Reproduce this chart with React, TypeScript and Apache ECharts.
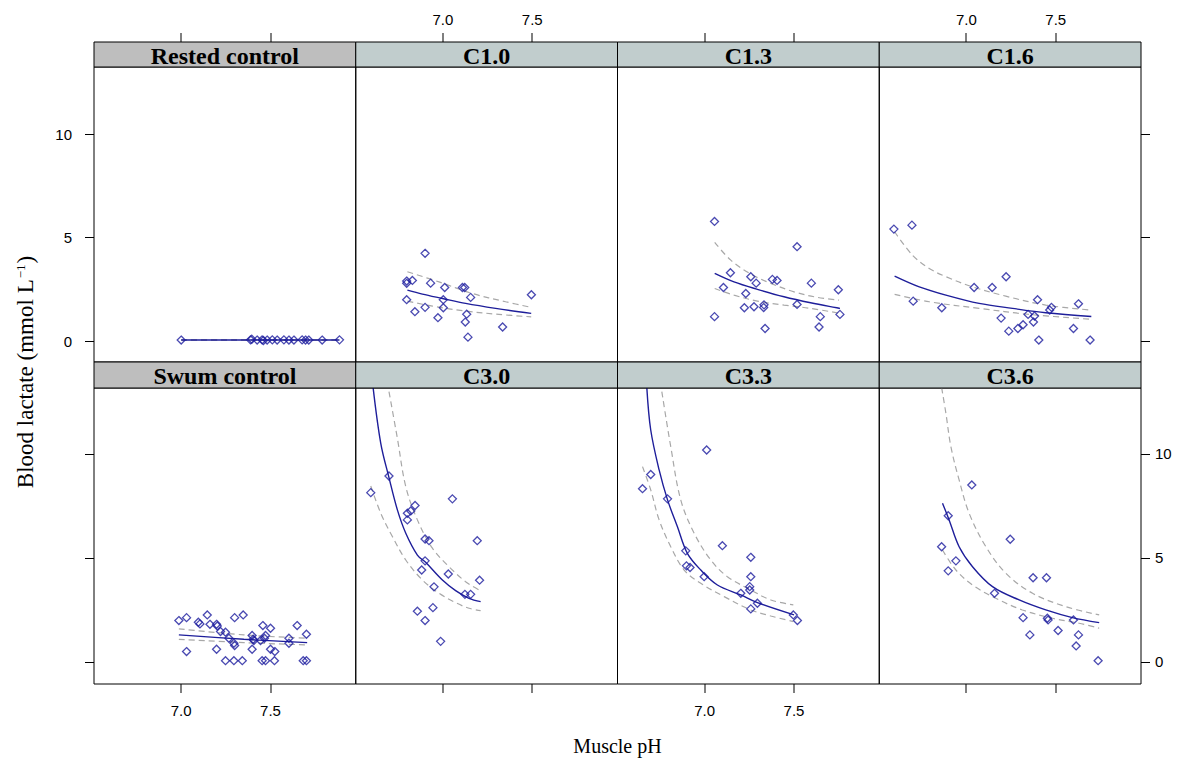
import React, { useEffect, useRef } from "react";
import * as echarts from "echarts";

// ---------- data ----------
const panelTitles = ["Rested control", "C1.0", "C1.3", "C1.6", "Swum control", "C3.0", "C3.3", "C3.6"];
const xTicks = [7.0, 7.5];
const yTicks = [0, 5, 10];

const restedPoints = [[7.0, 0.05], [7.388, 0.06], [7.395, 0.09], [7.425, 0.05], [7.453, 0.06], [7.46, 0.03], [7.481, 0.05], [7.51, 0.06], [7.537, 0.05], [7.575, 0.06], [7.603, 0.05], [7.631, 0.05], [7.677, 0.06], [7.696, 0.05], [7.714, 0.05], [7.789, 0.05], [7.886, 0.06]];
const restedFit = [[7.0, 0.05], [7.886, 0.05]];
const restedUpper = [[7.0, 0.07], [7.886, 0.07]];
const restedLower = [[7.0, 0.03], [7.886, 0.03]];

const c10Points = [[6.9, 4.24], [6.797, 2.9], [6.829, 2.93], [6.797, 2.79], [6.931, 2.8], [7.01, 2.59], [7.109, 2.59], [7.122, 2.59], [7.155, 2.11], [7.495, 2.24], [6.797, 2.0], [7.002, 2.0], [6.843, 1.42], [6.9, 1.63], [7.002, 1.61], [6.972, 1.13], [7.133, 1.3], [7.125, 0.92], [7.334, 0.68], [7.14, 0.19]];
const c10Fit = [[6.801, 2.46], [6.885, 2.27], [6.997, 2.06], [7.127, 1.82], [7.295, 1.58], [7.494, 1.34]];
const c10Upper = [[6.801, 3.35], [6.978, 2.86], [7.164, 2.3], [7.351, 1.9], [7.494, 1.63]];
const c10Lower = [[6.801, 1.93], [6.941, 1.69], [7.127, 1.45], [7.313, 1.29], [7.494, 1.17]];

const c13Points = [[7.055, 5.78], [7.517, 4.56], [7.144, 3.3], [7.258, 3.11], [7.288, 2.8], [7.379, 2.98], [7.405, 2.93], [7.597, 2.8], [7.105, 2.59], [7.748, 2.48], [7.23, 2.3], [7.222, 1.61], [7.276, 1.66], [7.332, 1.75], [7.33, 1.62], [7.517, 1.77], [7.647, 1.18], [7.757, 1.29], [7.055, 1.18], [7.338, 0.61], [7.64, 0.68]];
const c13Fit = [[7.056, 3.27], [7.164, 2.86], [7.295, 2.5], [7.444, 2.14], [7.593, 1.85], [7.757, 1.58]];
const c13Upper = [[7.056, 4.77], [7.146, 3.91], [7.258, 3.24], [7.37, 2.79], [7.5, 2.38], [7.631, 2.11], [7.752, 1.98]];
const c13Lower = [[7.056, 2.54], [7.164, 2.22], [7.295, 1.93], [7.444, 1.74], [7.593, 1.58], [7.757, 1.34]];

const c16Points = [[6.594, 5.41], [6.695, 5.6], [7.222, 3.11], [7.043, 2.59], [7.144, 2.59], [6.702, 1.93], [6.862, 1.61], [7.398, 2.0], [7.627, 1.8], [7.476, 1.63], [7.466, 1.5], [7.194, 1.11], [7.345, 1.29], [7.381, 1.21], [7.375, 0.92], [7.317, 0.79], [7.288, 0.61], [7.237, 0.48], [7.599, 0.61], [7.405, 0.05], [7.692, 0.05]];
const c16Fit = [[6.598, 3.14], [6.736, 2.62], [6.885, 2.22], [7.071, 1.82], [7.258, 1.58], [7.444, 1.37], [7.699, 1.19]];
const c16Upper = [[6.598, 5.28], [6.698, 4.15], [6.792, 3.51], [6.885, 3.11], [7.034, 2.62], [7.22, 2.17], [7.444, 1.74], [7.699, 1.5]];
const c16Lower = [[6.598, 2.26], [6.792, 1.9], [7.071, 1.58], [7.351, 1.29], [7.699, 1.05]];

const swumPoints = [[6.987, 1.99], [7.03, 2.13], [7.146, 2.26], [7.096, 1.91], [7.105, 1.83], [7.161, 1.81], [7.198, 1.81], [7.202, 1.73], [7.299, 2.13], [7.347, 2.26], [7.22, 1.46], [7.248, 1.43], [7.267, 1.14], [7.295, 0.9], [7.299, 0.79], [7.397, 1.27], [7.403, 1.09], [7.407, 1.03], [7.457, 1.75], [7.5, 1.62], [7.472, 1.27], [7.466, 1.14], [7.444, 1.03], [7.649, 1.75], [7.701, 1.33], [7.603, 1.14], [7.603, 0.9], [7.03, 0.5], [7.198, 0.61], [7.397, 0.61], [7.5, 0.61], [7.524, 0.5], [7.248, 0.06], [7.295, 0.06], [7.342, 0.06], [7.453, 0.06], [7.472, 0.06], [7.522, 0.06], [7.683, 0.06], [7.701, 0.06]];
const swumFit = [[6.987, 1.3], [7.351, 1.09], [7.705, 0.93]];
const swumUpper = [[6.987, 1.59], [7.351, 1.3], [7.705, 1.14]];
const swumLower = [[6.987, 1.09], [7.351, 0.93], [7.705, 0.82]];

const c30Points = [[6.698, 8.94], [6.596, 8.14], [7.053, 7.84], [6.844, 7.52], [6.82, 7.26], [6.801, 7.15], [6.801, 6.83], [6.9, 5.91], [6.922, 5.83], [7.192, 5.83], [6.9, 4.86], [6.881, 4.42], [7.03, 4.23], [7.205, 3.93], [6.95, 3.61], [7.123, 3.25], [7.155, 3.25], [6.944, 2.61], [6.857, 2.44], [6.9, 1.99], [6.987, 0.99]];
const c30Fit = [[6.609, 13.2], [6.652, 10.51], [6.698, 8.86], [6.745, 7.31], [6.792, 6.19], [6.857, 5.14], [6.903, 4.79], [6.997, 3.94], [7.071, 3.43], [7.146, 3.06], [7.211, 2.9]];
const c30Upper = [[6.698, 13.0], [6.745, 10.75], [6.792, 8.43], [6.857, 6.83], [6.941, 5.47], [7.034, 4.58], [7.127, 3.86], [7.202, 3.46]];
const c30Lower = [[6.596, 8.46], [6.652, 7.15], [6.717, 6.03], [6.792, 4.9], [6.885, 3.94], [6.978, 3.3], [7.071, 2.85], [7.146, 2.58], [7.211, 2.47]];

const c33Points = [[7.011, 10.19], [6.698, 9.01], [6.652, 8.33], [6.792, 7.84], [7.099, 5.59], [7.258, 5.03], [6.894, 5.34], [6.898, 4.62], [6.918, 4.54], [7.258, 4.1], [6.997, 4.1], [7.252, 3.62], [7.252, 3.46], [7.202, 3.3], [7.295, 2.82], [7.258, 2.55], [7.496, 2.26], [7.519, 1.99]];
const c33Fit = [[6.676, 13.2], [6.698, 11.15], [6.745, 9.23], [6.792, 7.79], [6.847, 6.51], [6.903, 5.22], [6.978, 4.42], [7.071, 3.7], [7.202, 3.22], [7.295, 2.85], [7.5, 2.26]];
const c33Upper = [[6.76, 13.0], [6.81, 10.35], [6.866, 7.79], [6.941, 6.19], [7.034, 4.9], [7.127, 4.1], [7.258, 3.46], [7.37, 2.98], [7.496, 2.74]];
const c33Lower = [[6.652, 9.39], [6.698, 8.27], [6.745, 6.83], [6.81, 5.54], [6.885, 4.42], [6.978, 3.78], [7.109, 3.14], [7.258, 2.5], [7.37, 2.21], [7.496, 1.94]];

const c36Points = [[7.03, 8.51], [6.898, 7.03], [7.245, 5.9], [6.861, 5.54], [6.941, 4.86], [6.898, 4.38], [7.373, 4.05], [7.448, 4.05], [7.157, 3.3], [7.317, 2.13], [7.453, 2.1], [7.457, 2.02], [7.599, 2.02], [7.513, 1.51], [7.355, 1.3], [7.627, 1.3], [7.614, 0.77], [7.737, 0.06]];
const c36Fit = [[6.866, 7.63], [6.903, 6.83], [6.959, 5.54], [7.034, 4.58], [7.146, 3.62], [7.295, 2.98], [7.444, 2.5], [7.593, 2.13], [7.743, 1.89]];
const c36Upper = [[6.861, 13.2], [6.885, 11.96], [6.913, 10.35], [6.959, 8.75], [7.015, 7.15], [7.109, 5.54], [7.221, 4.26], [7.37, 3.3], [7.556, 2.66], [7.743, 2.26]];
const c36Lower = [[6.866, 5.38], [6.941, 4.42], [7.034, 3.7], [7.164, 3.06], [7.313, 2.5], [7.481, 2.1], [7.631, 1.86], [7.743, 1.62]];

const panelPoints = [restedPoints, c10Points, c13Points, c16Points, swumPoints, c30Points, c33Points, c36Points];
const panelFits = [restedFit, c10Fit, c13Fit, c16Fit, swumFit, c30Fit, c33Fit, c36Fit];
const panelUpper = [restedUpper, c10Upper, c13Upper, c16Upper, swumUpper, c30Upper, c33Upper, c36Upper];
const panelLower = [restedLower, c10Lower, c13Lower, c16Lower, swumLower, c30Lower, c33Lower, c36Lower];

// ---------- layout / style ----------
const X_MIN = 6.512;
const X_MAX = 7.977;
const Y_RANGE = [[-1.01, 13.24], [-1.06, 13.17]];
const PLOT_LEFT = 94;
const PANEL_W = 261.75;
const STRIP_TOP = [42, 362];
const STRIP_H = [25, 26];
const PANEL_H = [295, 296];
const TICK_LEN = 9;
const BLUE = "#1c1c9e";
const LINE_BLUE = "#1e1e9a";
const GREY = "#a8a8a8";
const STRIP_COLORS = ["#bebebe", "#c1cdcd", "#c1cdcd", "#c1cdcd", "#bebebe", "#c1cdcd", "#c1cdcd", "#c1cdcd"];
const SANS = "'Liberation Sans', Arial, sans-serif";
const SERIF = "'Liberation Serif', 'Times New Roman', serif";

export default function App() {
  const ref = useRef<HTMLDivElement>(null);

  useEffect(() => {
    const chart = echarts.init(ref.current as HTMLDivElement, null, { renderer: "svg" });
    const grids: any[] = [];
    const xAxes: any[] = [];
    const yAxes: any[] = [];
    const series: any[] = [];
    const graphics: any[] = [];

    for (let i = 0; i < 8; i++) {
      const r = Math.floor(i / 4);
      const c = i % 4;
      const left = PLOT_LEFT + c * PANEL_W;
      const top = STRIP_TOP[r] + STRIP_H[r];
      grids.push({
        left, top, width: PANEL_W, height: PANEL_H[r],
        show: true, borderColor: "#000", borderWidth: 1,
        containLabel: false, outerBoundsMode: "none",
      });
      const showXLabel = r === 0 ? c % 2 === 1 : c % 2 === 0;
      xAxes.push({
        type: "value", gridIndex: i, min: X_MIN, max: X_MAX,
        position: r === 0 ? "top" : "bottom",
        offset: r === 0 ? STRIP_H[0] : 0,
        axisLine: { show: false, onZero: false },
        splitLine: { show: false },
        axisTick: { show: false },
        axisLabel: {
          show: showXLabel, customValues: xTicks, margin: r === 0 ? 15 : 19,
          formatter: (v: number) => v.toFixed(1), fontSize: 15, fontFamily: SANS, color: "#000",
        },
      });
      const outerY = c === 0 || c === 3;
      const showYLabel = (c === 0 && r === 0) || (c === 3 && r === 1);
      yAxes.push({
        type: "value", gridIndex: i, min: Y_RANGE[r][0], max: Y_RANGE[r][1],
        position: c === 3 ? "right" : "left",
        axisLine: { show: false, onZero: false },
        splitLine: { show: false },
        axisTick: { show: outerY, inside: false, length: TICK_LEN, customValues: yTicks, lineStyle: { color: "#000", width: 1 } },
        axisLabel: {
          show: showYLabel, customValues: yTicks, margin: c === 0 ? 22 : 14,
          fontSize: 15, fontFamily: SANS, color: "#000",
        },
      });

      const dashed = { color: GREY, width: 1.2, type: [6, 4] };
      series.push({
        type: "line", xAxisIndex: i, yAxisIndex: i, data: panelUpper[i], showSymbol: false,
        smooth: 0.35, lineStyle: dashed, silent: true, clip: true, z: 2,
      });
      series.push({
        type: "line", xAxisIndex: i, yAxisIndex: i, data: panelLower[i], showSymbol: false,
        smooth: 0.35, lineStyle: dashed, silent: true, clip: true, z: 2,
      });
      series.push({
        type: "line", xAxisIndex: i, yAxisIndex: i, data: panelFits[i], showSymbol: false,
        smooth: 0.35, lineStyle: { color: LINE_BLUE, width: 1.4 }, silent: true, clip: true, z: 3,
      });
      series.push({
        type: "scatter", xAxisIndex: i, yAxisIndex: i, data: panelPoints[i],
        symbol: "diamond", symbolSize: 8, silent: true, z: 4,
        itemStyle: { color: "rgba(0,0,0,0)", borderColor: BLUE, borderWidth: 1.3 },
      });

      graphics.push({
        type: "rect", z: 10,
        shape: { x: left, y: STRIP_TOP[r], width: PANEL_W, height: STRIP_H[r] },
        style: { fill: STRIP_COLORS[i], stroke: "#000", lineWidth: 1 },
      });
      graphics.push({
        type: "text", z: 11,
        x: left + PANEL_W / 2, y: STRIP_TOP[r] + STRIP_H[r] / 2 + 1,
        style: {
          text: panelTitles[i], align: "center", verticalAlign: "middle",
          font: `bold 24px ${SERIF}`, fill: "#000",
        },
      });

      // x tick marks on the outer edge of each panel (same linear scale as the axis)
      const edge = r === 0 ? STRIP_TOP[0] - TICK_LEN : top + PANEL_H[r];
      xTicks.forEach((v) => {
        const px = left + ((v - X_MIN) / (X_MAX - X_MIN)) * PANEL_W;
        graphics.push({
          type: "rect", z: 12,
          shape: { x: Math.round(px) - 0.5, y: edge, width: 1, height: TICK_LEN },
          style: { fill: "#000" },
        });
      });
    }

    graphics.push({
      type: "text", z: 11, x: 617.5, y: 746,
      style: { text: "Muscle pH", align: "center", verticalAlign: "middle", font: `20px ${SERIF}`, fill: "#000" },
    });
    graphics.push({
      type: "text", z: 11, x: 25, y: 372, rotation: Math.PI / 2,
      style: {
        text: "{a|Blood lactate (mmol L}{s|−1}{a|)}",
        align: "center", verticalAlign: "middle", fill: "#000",
        rich: {
          a: { fontFamily: SERIF, fontSize: 23, fill: "#000" },
          s: { fontFamily: SERIF, fontSize: 13, fill: "#000", verticalAlign: "top", padding: [0, 1, 10, 1] },
        },
      },
    });

    chart.setOption({
      animation: false,
      backgroundColor: "#fff",
      grid: grids,
      xAxis: xAxes,
      yAxis: yAxes,
      series,
      graphic: graphics,
    });
    return () => chart.dispose();
  }, []);

  return <div ref={ref} style={{ position: "absolute", left: 0, top: 0, width: 1182, height: 764 }} />;
}
